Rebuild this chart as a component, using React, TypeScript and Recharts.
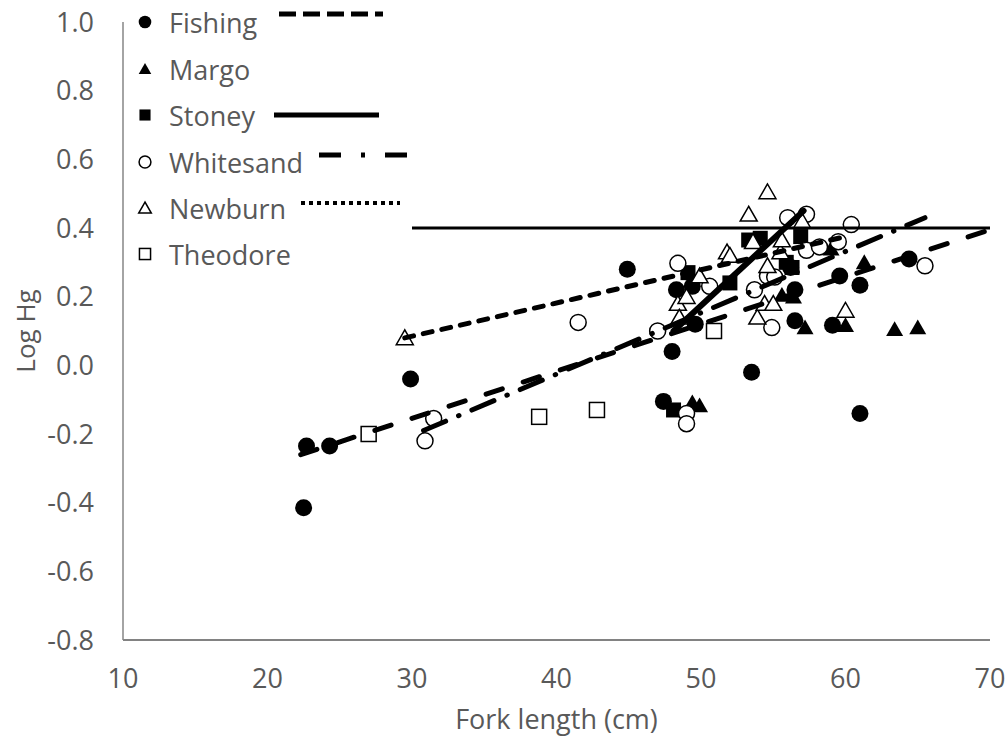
import { ScatterChart, Scatter, XAxis, YAxis } from 'recharts';

// fork length (cm), log Hg
const fishing = [
  [22.5, -0.415], [22.7, -0.235], [24.3, -0.235], [29.9, -0.04], [44.9, 0.28],
  [47.4, -0.105], [48.0, 0.04], [48.3, 0.22], [49.4, 0.23], [49.6, 0.12],
  [53.5, -0.02], [56.2, 0.285], [56.5, 0.22], [56.5, 0.13], [59.1, 0.117],
  [59.6, 0.26], [61.0, 0.233], [61.0, -0.14], [64.4, 0.31],
];
const margo = [
  [49.4, -0.108], [49.9, -0.117], [55.6, 0.205], [56.4, 0.2], [57.2, 0.11],
  [59.0, 0.34], [60.0, 0.117], [61.3, 0.3], [63.4, 0.105], [65.0, 0.11],
];
const stoney = [
  [48.1, -0.13], [49.1, 0.27], [52.0, 0.24], [53.3, 0.365], [54.1, 0.37],
  [55.9, 0.3], [56.3, 0.285], [56.9, 0.375],
];
const whitesand = [
  [30.9, -0.22], [31.5, -0.155], [41.5, 0.125], [47.0, 0.1], [48.4, 0.297],
  [49.0, -0.14], [49.0, -0.17], [50.6, 0.23], [53.7, 0.22], [54.6, 0.26],
  [55.1, 0.257], [54.9, 0.11], [56.0, 0.43], [57.3, 0.44], [57.3, 0.335],
  [58.2, 0.345], [59.5, 0.36], [60.4, 0.41], [65.5, 0.29],
];
const newburn = [
  [29.5, 0.08], [48.4, 0.18], [49.0, 0.2], [48.5, 0.14], [49.9, 0.26],
  [51.8, 0.33], [52.0, 0.32], [53.3, 0.44], [53.6, 0.36], [54.6, 0.505],
  [53.9, 0.14], [54.4, 0.18], [55.0, 0.18], [54.6, 0.29], [55.5, 0.33],
  [55.6, 0.365], [57.0, 0.42], [60.0, 0.16],
];
const theodore = [[27.0, -0.2], [38.8, -0.15], [42.8, -0.13], [50.9, 0.1]];

// fitted lines (end points)
const fishingFit = [[22.3, -0.26], [70, 0.395]];
const whitesandFit = [[30.8, -0.19], [65.5, 0.43]];
const newburnFit = [[29.5, 0.08], [60, 0.375]];
const stoneyFit = [[48.1, 0.1], [57.1, 0.45]];
const limitLine = [[30, 0.4], [70, 0.4]];

const xTicks = [10, 20, 30, 40, 50, 60, 70];
const yTicks = [-0.8, -0.6, -0.4, -0.2, 0, 0.2, 0.4, 0.6, 0.8, 1.0];

const FONT = '"Open Sans", sans-serif';
const GREY = '#595959';

type Kind = 'dot' | 'tri' | 'sq' | 'ring' | 'otri' | 'osq';

const toPts = (a: number[][]) => a.map(([x, y]) => ({ x, y }));

function Marker({ kind, cx, cy, s = 1 }: { kind: Kind; cx: number; cy: number; s?: number }) {
  const filled = kind === 'dot' || kind === 'tri' || kind === 'sq';
  const fill = filled ? '#000' : '#fff';
  const stroke = '#000';
  const sw = filled ? 0 : 1.5;
  if (kind === 'dot' || kind === 'ring') {
    return <circle cx={cx} cy={cy} r={(filled ? 8.5 : 8) * s} fill={fill} stroke={stroke} strokeWidth={sw} />;
  }
  if (kind === 'tri' || kind === 'otri') {
    const h = 8 * s;
    const w = 8.5 * s;
    return (
      <polygon
        points={`${cx},${cy - h} ${cx - w},${cy + h * 0.85} ${cx + w},${cy + h * 0.85}`}
        fill={fill}
        stroke={stroke}
        strokeWidth={sw}
        strokeLinejoin="miter"
      />
    );
  }
  const half = 7.5 * s;
  return <rect x={cx - half} y={cy - half} width={half * 2} height={half * 2} fill={fill} stroke={stroke} strokeWidth={sw} />;
}

const shapeOf = (kind: Kind) => (p: any) => <Marker kind={kind} cx={p.cx} cy={p.cy} />;
const noShape = () => <g />;

const legendRows: { name: string; kind: Kind; y: number }[] = [
  { name: 'Fishing', kind: 'dot', y: 22 },
  { name: 'Margo', kind: 'tri', y: 69 },
  { name: 'Stoney', kind: 'sq', y: 115 },
  { name: 'Whitesand', kind: 'ring', y: 162 },
  { name: 'Newburn', kind: 'otri', y: 208 },
  { name: 'Theodore', kind: 'osq', y: 254 },
];

function LegendBox() {
  return (
    <svg width={440} height={280} style={{ position: 'absolute', left: 0, top: 0 }}>
      {legendRows.map((r) => (
        <g key={r.name}>
          <Marker kind={r.kind} cx={145} cy={r.y} s={0.74} />
          <text x={169} y={r.y} dominantBaseline="central" fontSize={27} fill={GREY} fontFamily={FONT}>
            {r.name}
          </text>
        </g>
      ))}
      <line x1={279} x2={383} y1={14} y2={14} stroke="#000" strokeWidth={5} strokeDasharray="17 7" />
      <line x1={274} x2={379} y1={115} y2={115} stroke="#000" strokeWidth={5} />
      <line x1={319} x2={407} y1={155} y2={155} stroke="#000" strokeWidth={5} strokeDasharray="22 20 4 20" />
      <line x1={301} x2={400} y1={203} y2={203} stroke="#000" strokeWidth={4} strokeDasharray="4 4" />
    </svg>
  );
}

export default function App() {
  return (
    <div style={{ position: 'absolute', left: 0, top: 0, width: 1007, height: 740, background: '#fff', fontFamily: FONT }}>
      <ScatterChart width={1007} height={740} margin={{ top: 22, right: 17, bottom: 40, left: 23 }}>
        <XAxis
          type="number"
          dataKey="x"
          domain={[10, 70]}
          ticks={xTicks}
          height={60}
          tickLine={false}
          tickSize={0}
          tickMargin={29}
          axisLine={{ stroke: '#595959', strokeWidth: 1.5 }}
          tick={{ fontSize: 27, fill: GREY, fontFamily: FONT }}
          label={{ value: 'Fork length (cm)', position: 'bottom', offset: 10, fontSize: 27, fill: GREY, fontFamily: FONT }}
        />
        <YAxis
          type="number"
          dataKey="y"
          domain={[-0.8, 1.0]}
          ticks={yTicks}
          width={100}
          tickLine={false}
          tickSize={0}
          tickMargin={29}
          axisLine={{ stroke: '#868686', strokeWidth: 1.5 }}
          tickFormatter={(v: number) => v.toFixed(1)}
          tick={{ fontSize: 27, fill: GREY, fontFamily: FONT }}
        />
        <Scatter data={toPts(fishing)} shape={shapeOf('dot')} isAnimationActive={false} />
        <Scatter data={toPts(margo)} shape={shapeOf('tri')} isAnimationActive={false} />
        <Scatter data={toPts(stoney)} shape={shapeOf('sq')} isAnimationActive={false} />
        <Scatter data={toPts(whitesand)} shape={shapeOf('ring')} isAnimationActive={false} />
        <Scatter data={toPts(newburn)} shape={shapeOf('otri')} isAnimationActive={false} />
        <Scatter data={toPts(theodore)} shape={shapeOf('osq')} isAnimationActive={false} />

        <Scatter data={toPts(limitLine)} shape={noShape} line={{ stroke: '#000', strokeWidth: 3 }} isAnimationActive={false} />
        <Scatter
          data={toPts(fishingFit)}
          shape={noShape}
          line={{ stroke: '#000', strokeWidth: 5, strokeDasharray: '17 22', strokeLinecap: 'round' }}
          isAnimationActive={false}
        />
        <Scatter
          data={toPts(whitesandFit)}
          shape={noShape}
          line={{ stroke: '#000', strokeWidth: 5, strokeDasharray: '24 14 0.5 14', strokeLinecap: 'round' }}
          isAnimationActive={false}
        />
        <Scatter
          data={toPts(newburnFit)}
          shape={noShape}
          line={{ stroke: '#000', strokeWidth: 5, strokeDasharray: '9 10', strokeLinecap: 'round' }}
          isAnimationActive={false}
        />
        <Scatter
          data={toPts(stoneyFit)}
          shape={noShape}
          line={{ stroke: '#000', strokeWidth: 6, strokeLinecap: 'round' }}
          isAnimationActive={false}
        />
      </ScatterChart>
      <svg width={60} height={740} style={{ position: 'absolute', left: 0, top: 0 }}>
        <text
          x={25}
          y={331}
          transform="rotate(-90 25 331)"
          textAnchor="middle"
          dominantBaseline="central"
          fontSize={26}
          fill={GREY}
          fontFamily={FONT}
        >
          Log Hg
        </text>
      </svg>
      <LegendBox />
    </div>
  );
}
